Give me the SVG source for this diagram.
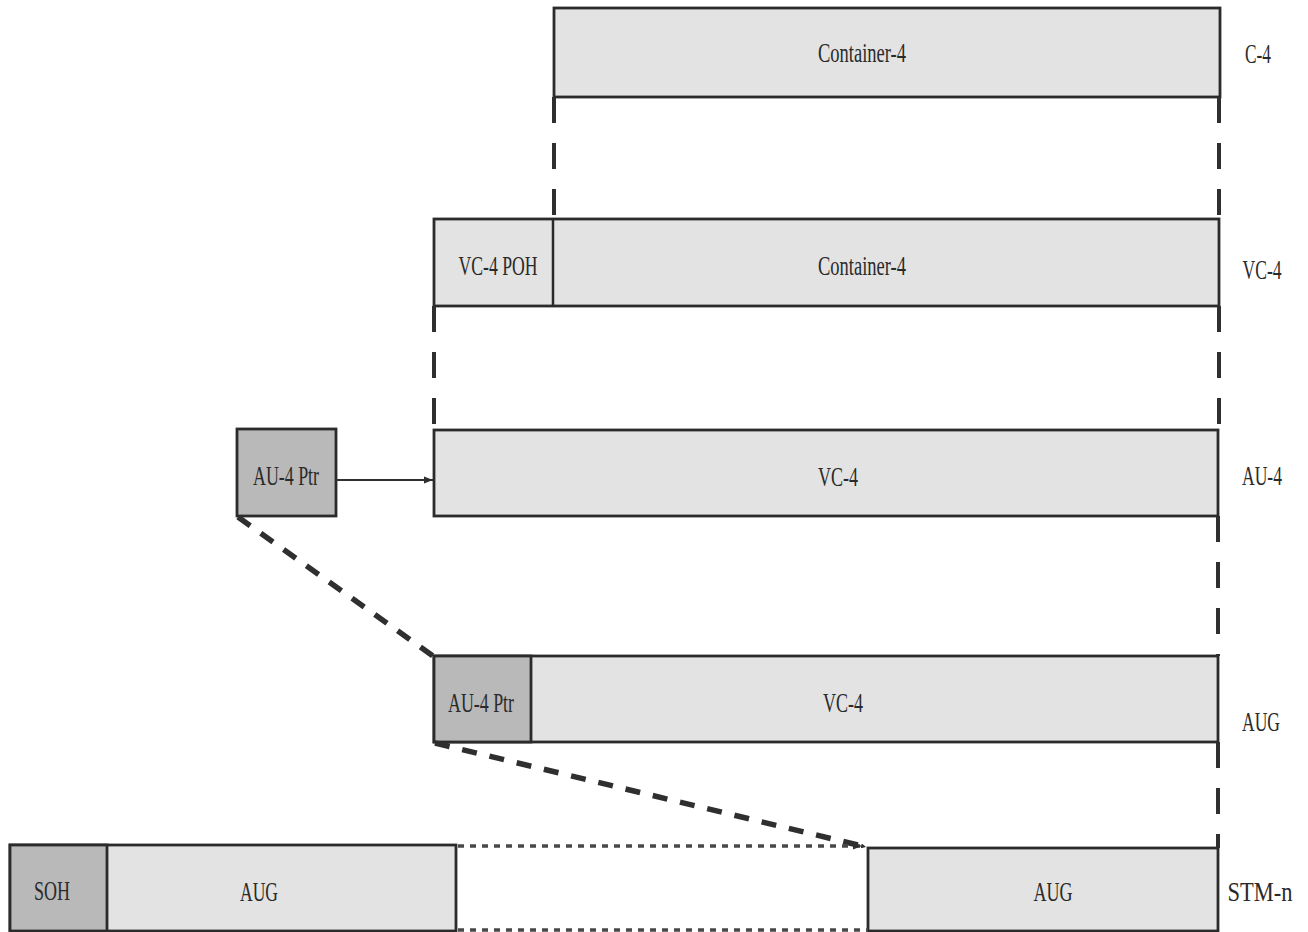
<svg xmlns="http://www.w3.org/2000/svg" width="1308" height="932" viewBox="0 0 1308 932">
  <defs>
    <style>
      .box { fill: #e3e3e3; stroke: #2b2b2b; stroke-width: 2.8; }
      .dark { fill: #b9b9b9; stroke: #2b2b2b; stroke-width: 2.8; }
      .div { stroke: #2b2b2b; stroke-width: 2.5; }
      .t { font-family: "Liberation Serif", "Times New Roman", serif; font-size: 27px; fill: #2a2a2a; text-anchor: middle; }
      .vdash { stroke: #2f2f2f; stroke-width: 4; fill: none; stroke-dasharray: 26 20; }
      .diag { stroke: #2f2f2f; stroke-width: 5.5; fill: none; stroke-dasharray: 15 13; }
      .dot { stroke: #484848; stroke-width: 3.5; fill: none; stroke-dasharray: 6 6; }
      .solid { stroke: #2f2f2f; stroke-width: 2; fill: none; }
    </style>
    <marker id="ah" viewBox="0 0 10 10" refX="10" refY="5" markerWidth="5" markerHeight="5" orient="auto" markerUnits="userSpaceOnUse">
      <path d="M0,0 L10,5 L0,10 z" fill="#2f2f2f"/>
    </marker>
    <marker id="ahs" viewBox="0 0 10 10" refX="10" refY="5" markerWidth="9" markerHeight="9" orient="auto" markerUnits="userSpaceOnUse">
      <path d="M0,1 L10,5 L0,9 z" fill="#2f2f2f"/>
    </marker>
  </defs>
  <rect width="1308" height="932" fill="#ffffff"/>

  <!-- C-4 row -->
  <g id="c4">
    <rect class="box" x="554" y="8" width="666" height="89"/>
    <text class="t" x="862" y="62" textLength="88" lengthAdjust="spacingAndGlyphs">Container-4</text>
    <text class="t" x="1258" y="63" textLength="26" lengthAdjust="spacingAndGlyphs">C-4</text>
  </g>

  <!-- VC-4 row -->
  <g id="vc4">
    <rect class="box" x="434" y="219" width="785" height="87"/>
    <line class="div" x1="553" y1="219" x2="553" y2="306"/>
    <text class="t" x="498" y="275" textLength="79" lengthAdjust="spacingAndGlyphs">VC-4 POH</text>
    <text class="t" x="862" y="275" textLength="88" lengthAdjust="spacingAndGlyphs">Container-4</text>
    <text class="t" x="1262" y="279" textLength="39" lengthAdjust="spacingAndGlyphs">VC-4</text>
  </g>

  <!-- AU-4 pointer (stand-alone) -->
  <g id="au4ptr">
    <rect class="dark" x="237" y="429" width="99" height="87"/>
    <text class="t" x="286" y="485" textLength="66" lengthAdjust="spacingAndGlyphs">AU-4 Ptr</text>
  </g>

  <!-- AU-4 row -->
  <g id="au4">
    <rect class="box" x="434" y="430" width="784" height="86"/>
    <text class="t" x="838" y="486" textLength="40" lengthAdjust="spacingAndGlyphs">VC-4</text>
    <text class="t" x="1262" y="485" textLength="40" lengthAdjust="spacingAndGlyphs">AU-4</text>
  </g>

  <!-- AUG row -->
  <g id="aug">
    <rect class="box" x="434" y="656" width="784" height="86"/>
    <rect class="dark" x="434" y="656" width="97" height="86"/>
    <text class="t" x="481" y="712" textLength="66" lengthAdjust="spacingAndGlyphs">AU-4 Ptr</text>
    <text class="t" x="843" y="712" textLength="40" lengthAdjust="spacingAndGlyphs">VC-4</text>
    <text class="t" x="1261" y="731" textLength="38" lengthAdjust="spacingAndGlyphs">AUG</text>
  </g>

  <!-- STM-n frame -->
  <g id="stm-left">
    <rect class="box" x="10" y="845" width="446" height="86"/>
    <rect class="dark" x="10" y="845" width="97" height="86"/>
    <text class="t" x="52" y="900" textLength="36" lengthAdjust="spacingAndGlyphs">SOH</text>
    <text class="t" x="259" y="901" textLength="38" lengthAdjust="spacingAndGlyphs">AUG</text>
  </g>
  <g id="stm-right">
    <rect class="box" x="868" y="848" width="350" height="83"/>
    <text class="t" x="1053" y="901" textLength="39" lengthAdjust="spacingAndGlyphs">AUG</text>
    <text class="t" x="1260" y="901" textLength="65" lengthAdjust="spacingAndGlyphs">STM-n</text>
  </g>

  <!-- connectors -->
  <g id="connectors">
    <!-- mapping guides between levels -->
    <line class="vdash" x1="554" y1="97" x2="554" y2="219"/>
    <line class="vdash" x1="1219" y1="97" x2="1219" y2="219"/>
    <line class="vdash" x1="434" y1="306" x2="434" y2="430"/>
    <line class="vdash" x1="1219" y1="306" x2="1219" y2="430"/>
    <line class="vdash" x1="1218" y1="516" x2="1218" y2="656"/>
    <line class="vdash" x1="1218" y1="742" x2="1218" y2="848"/>
    <!-- pointer to VC-4 -->
    <line class="solid" x1="336" y1="480" x2="433" y2="480" marker-end="url(#ahs)"/>
    <!-- pointer relocation -->
    <line class="diag" x1="238" y1="517" x2="433" y2="656" marker-end="url(#ah)"/>
    <line class="diag" x1="435" y1="743" x2="866" y2="847" marker-end="url(#ah)"/>
    <!-- interleaved span -->
    <line class="dot" x1="458" y1="846" x2="862" y2="846" marker-end="url(#ahs)"/>
    <line class="dot" x1="458" y1="930" x2="868" y2="930"/>
  </g>
</svg>
